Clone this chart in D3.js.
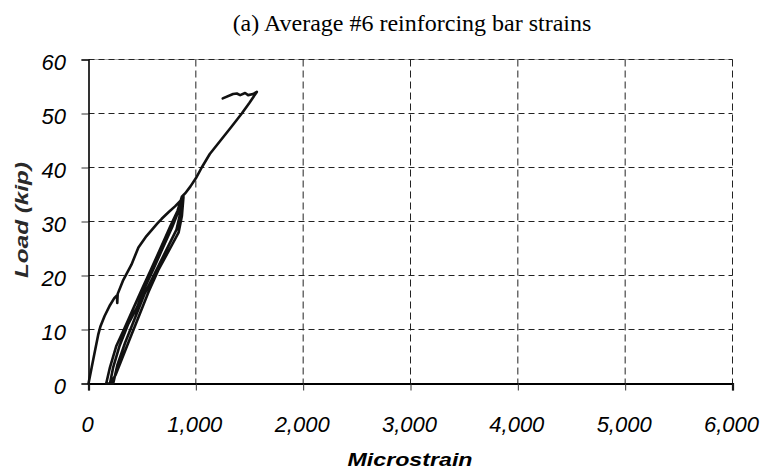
<!DOCTYPE html>
<html>
<head>
<meta charset="utf-8">
<script src="https://cdn.jsdelivr.net/npm/d3@7"></script>
<style>
  html, body { margin: 0; padding: 0; background: #ffffff; }
  svg { display: block; }
</style>
</head>
<body>
<div id="chart"></div>
<script>
// Chart data
const titleText = '(a) Average #6 reinforcing bar strains';
const xLabelText = 'Microstrain';
const yLabelText = 'Load (kip)';
const xTicks = [0, 1000, 2000, 3000, 4000, 5000, 6000];
const yTicks = [0, 10, 20, 30, 40, 50, 60];

// strain (microstrain) and load (kip) along the recorded path
const strainValues = [
    0, 30, 60, 90, 110, 150, 200, 240, 265, 268, 272, 320, 400, 465, 540, 640, 682, 750, 806, 860,
    875, 860, 820, 720, 620, 520, 420, 340, 270, 230,
    200, 230, 290, 370, 450, 530, 600, 690, 780, 840, 880,
    885, 870, 840, 760, 650, 560, 460, 380, 300, 250, 205,
    165, 200, 260, 330, 420, 510, 580, 670, 760, 830, 870, 890,
    900, 950, 1000, 1055, 1130, 1230, 1330, 1428, 1500, 1568,
    1534, 1487, 1459, 1413, 1382, 1347, 1251
];
const loadValues = [
    0, 3, 6, 9, 10.5, 12.5, 14.5, 15.8, 16.3, 14.9, 16.6, 19, 22, 25.2, 27.3, 29.6, 30.5, 31.8, 32.8, 33.9,
    34.4, 32, 28.5, 24.5, 20.5, 16.5, 11.5, 7.5, 3.5, 0,
    0, 3, 7, 11, 14, 18, 21, 25, 29, 32, 34.5,
    34.6, 31, 28, 25, 21, 17, 12, 8, 4, 1.5, 0,
    0, 3, 7, 10, 14, 18, 21, 25, 29, 32, 34.6, 35,
    35.2, 36.5, 38, 40, 42.5, 45, 47.5, 50, 52, 54,
    53.6, 53.4, 53.8, 53.4, 53.7, 53.6, 52.8
];

const width = 765;
const height = 476;
const margin = { top: 59.5, right: 32.5, bottom: 92.5, left: 88.5 };

const svg = d3.select('#chart')
    .append('svg')
    .attr('width', width)
    .attr('height', height);

const x = d3.scaleLinear()
    .domain([0, 6000])
    .range([margin.left, width - margin.right]);

const y = d3.scaleLinear()
    .domain([0, 60])
    .range([height - margin.bottom, margin.top]);

// Title
svg.append('text')
    .attr('x', 412)
    .attr('y', 31)
    .attr('text-anchor', 'middle')
    .style('font-family', '"Liberation Serif", "Times New Roman", serif')
    .style('font-size', '24px')
    .attr('fill', '#000')
    .text(titleText);

// Top border (faint solid under the dashed grid line)
svg.append('line')
    .attr('x1', x(0)).attr('x2', x(6000))
    .attr('y1', y(60)).attr('y2', y(60))
    .attr('stroke', '#aaa')
    .attr('stroke-width', 1);

// Horizontal grid lines
svg.append('g')
    .selectAll('line')
    .data(yTicks.filter(d => d > 0))
    .enter()
    .append('line')
    .attr('x1', x(0))
    .attr('x2', x(6000))
    .attr('y1', d => y(d))
    .attr('y2', d => y(d))
    .attr('stroke', '#222')
    .attr('stroke-width', 1)
    .attr('stroke-dasharray', '6,4');

// Vertical grid lines
svg.append('g')
    .selectAll('line')
    .data(xTicks.filter(d => d > 0))
    .enter()
    .append('line')
    .attr('x1', d => x(d))
    .attr('x2', d => x(d))
    .attr('y1', y(60))
    .attr('y2', y(0))
    .attr('stroke', '#222')
    .attr('stroke-width', 1)
    .attr('stroke-dasharray', '7,4');

// Y axis
const yAxis = d3.axisLeft(y)
    .tickValues(yTicks)
    .tickSize(7)
    .tickFormat('');
svg.append('g')
    .attr('transform', `translate(${x(0)},0)`)
    .call(yAxis)
    .call(g => g.select('.domain').attr('stroke', '#000').attr('stroke-width', 1.6))
    .call(g => g.selectAll('.tick line').attr('stroke', '#333'));

// X axis
const xAxis = d3.axisBottom(x)
    .tickValues(xTicks)
    .tickSize(7)
    .tickFormat('');
svg.append('g')
    .attr('transform', `translate(0,${y(0)})`)
    .call(xAxis)
    .call(g => g.select('.domain').attr('stroke', '#000').attr('stroke-width', 2.2))
    .call(g => g.selectAll('.tick line').attr('stroke', '#333'));

// Tick labels
const tickFont = '"Liberation Sans", Arial, sans-serif';
svg.append('g')
    .selectAll('text')
    .data(yTicks)
    .enter()
    .append('text')
    .attr('x', 66)
    .attr('y', d => y(d) + 10)
    .attr('text-anchor', 'end')
    .style('font-family', tickFont)
    .style('font-size', '22px')
    .style('font-style', 'italic')
    .text(d => d);

svg.append('g')
    .selectAll('text')
    .data(xTicks)
    .enter()
    .append('text')
    .attr('x', d => x(d) - 1)
    .attr('y', y(0) + 48)
    .attr('text-anchor', 'middle')
    .style('font-family', tickFont)
    .style('font-size', '22px')
    .style('font-style', 'italic')
    .text(d => d3.format(',')(d));

// Axis titles
svg.append('text')
    .attr('x', 410)
    .attr('y', 466)
    .attr('text-anchor', 'middle')
    .attr('textLength', 125)
    .attr('lengthAdjust', 'spacingAndGlyphs')
    .style('font-family', tickFont)
    .style('font-size', '19px')
    .style('font-weight', 'bold')
    .style('font-style', 'italic')
    .text(xLabelText);

svg.append('text')
    .attr('transform', 'translate(28,220) rotate(-90)')
    .attr('text-anchor', 'middle')
    .attr('textLength', 116)
    .attr('lengthAdjust', 'spacingAndGlyphs')
    .style('font-family', tickFont)
    .style('font-size', '19px')
    .style('font-weight', 'bold')
    .style('font-style', 'italic')
    .attr('fill', '#2a2a2a')
    .text(yLabelText);

// Load-strain curve
const points = strainValues.map((s, i) => [s, loadValues[i]]);
const line = d3.line()
    .x(d => x(d[0]))
    .y(d => y(d[1]))
    .curve(d3.curveLinear);

svg.append('path')
    .datum(points)
    .attr('d', line)
    .attr('fill', 'none')
    .attr('stroke', '#111')
    .attr('stroke-width', 2.6)
    .attr('stroke-linejoin', 'round')
    .attr('stroke-linecap', 'round');
</script>
</body>
</html>
